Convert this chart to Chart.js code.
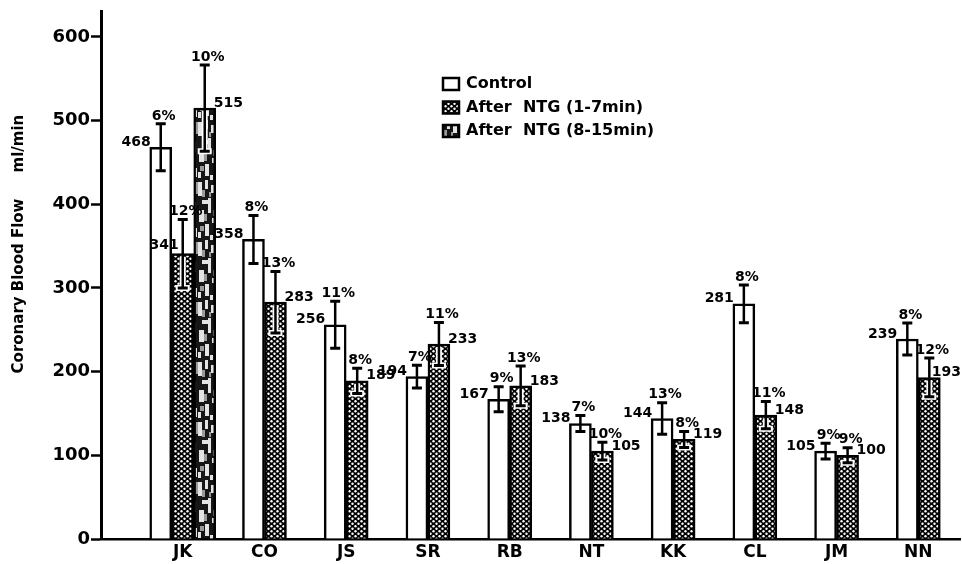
<!DOCTYPE html>
<html>
<head>
<meta charset="utf-8">
<script src="https://cdn.jsdelivr.net/npm/chart.js@4.4.1/dist/chart.umd.min.js"></script>
<style>
  html, body { margin: 0; padding: 0; background: #fff; }
  #wrap { position: relative; width: 962px; height: 564px; }
</style>
</head>
<body>
<div id="wrap"><canvas id="chart"></canvas></div>
<script>
// Coronary blood flow (ml/min) per subject, with variability in percent
const subjects = ['JK', 'CO', 'JS', 'SR', 'RB', 'NT', 'KK', 'CL', 'JM', 'NN'];
const controlFlow = [468, 358, 256, 194, 167, 138, 144, 281, 105, 239];
const controlVar  = [6, 8, 11, 7, 9, 7, 13, 8, 9, 8];
const earlyFlow   = [341, 283, 189, 233, 183, 105, 119, 148, 100, 193];
const earlyVar    = [12, 13, 8, 11, 13, 10, 8, 11, 9, 12];
const lateFlow    = [515, null, null, null, null, null, null, null, null, null];
const lateVar     = [10, null, null, null, null, null, null, null, null, null];
const yTicks      = [0, 100, 200, 300, 400, 500, 600];

const FONT = '"DejaVu Sans", "Liberation Sans", sans-serif';
Chart.defaults.font.family = FONT;
Chart.defaults.font.weight = 'bold';
Chart.defaults.color = '#000';

// Stipple fill: white dots on black
function dotPattern() {
  const c = document.createElement('canvas');
  c.width = 6; c.height = 5;
  const g = c.getContext('2d');
  g.fillStyle = '#000';
  g.fillRect(0, 0, 6, 5);
  g.fillStyle = '#fff';
  [[1.5, 1.25], [4.5, 3.75]].forEach(([x, y]) => {
    g.beginPath(); g.arc(x, y, 1.2, 0, Math.PI * 2); g.fill();
  });
  return g.createPattern(c, 'repeat');
}

// Dark fill with light vertical smears
function streakPattern() {
  const c = document.createElement('canvas');
  c.width = 22; c.height = 60;
  const g = c.getContext('2d');
  g.fillStyle = '#161616';
  g.fillRect(0, 0, 22, 60);
  g.fillStyle = '#e4e4e4';
  [[0, 2, 4, 14], [7, 0, 3, 9], [13, 5, 4, 8], [4, 20, 6, 4], [10, 18, 3, 15],
   [17, 22, 3, 10], [1, 30, 5, 12], [14, 38, 5, 5], [7, 44, 4, 12], [18, 48, 3, 9],
   [0, 52, 3, 6], [12, 55, 3, 5]].forEach(r => g.fillRect(...r));
  g.fillStyle = '#9a9a9a';
  [[4, 10, 3, 7], [11, 12, 2, 5], [6, 34, 3, 7], [15, 30, 2, 6], [2, 46, 4, 5], [19, 2, 3, 12]].forEach(r => g.fillRect(...r));
  return g.createPattern(c, 'repeat');
}

const canvas = document.getElementById('chart');
const ctx2d = canvas.getContext('2d');
const fills = ['#ffffff', dotPattern(), streakPattern()];

// Error bars plus value and percent annotations
const annotate = {
  id: 'annotate',
  afterDatasetsDraw(chart) {
    const { ctx, scales: { y } } = chart;
    ctx.save();
    chart.data.datasets.forEach((ds, d) => {
      const meta = chart.getDatasetMeta(d);
      ds.data.forEach((v, i) => {
        if (v == null) return;
        const bar = meta.data[i];
        const p = ds.spread[i];
        const hi = y.getPixelForValue(v * (1 + p / 100));
        const lo = y.getPixelForValue(v * (1 - p / 100));
        const x = bar.x;
        // white window inside the bar
        ctx.strokeStyle = '#fff';
        ctx.lineWidth = 6;
        ctx.beginPath();
        ctx.moveTo(x, bar.y + 3); ctx.lineTo(x, lo + 3);
        ctx.moveTo(x - 7, lo); ctx.lineTo(x + 7, lo);
        ctx.stroke();
        // whisker
        ctx.strokeStyle = '#000';
        ctx.lineWidth = 2.5;
        ctx.beginPath();
        ctx.moveTo(x, hi); ctx.lineTo(x, lo);
        ctx.stroke();
        ctx.lineWidth = 3;
        ctx.beginPath();
        ctx.moveTo(x - 5, hi); ctx.lineTo(x + 5, hi);
        ctx.moveTo(x - 5, lo); ctx.lineTo(x + 5, lo);
        ctx.stroke();
      });
    });
    ctx.fillStyle = '#000';
    ctx.font = 'bold 14px ' + FONT;
    ctx.textBaseline = 'middle';
    const maxX = chart.width - 1;
    chart.data.datasets.forEach((ds, d) => {
      const meta = chart.getDatasetMeta(d);
      ds.data.forEach((v, i) => {
        if (v == null) return;
        const bar = meta.data[i];
        const p = ds.spread[i];
        const hi = y.getPixelForValue(v * (1 + p / 100));
        const left = bar.x - bar.width / 2;
        const right = bar.x + bar.width / 2;
        // percent above whisker
        ctx.textAlign = 'center';
        ctx.fillText(p + '%', bar.x + 3, hi - 8);
        // value beside the bar top
        const txt = String(v);
        const crowded = d === 1 && chart.data.datasets[2].data[i] != null;
        if (d === 0) {
          ctx.textAlign = 'right';
          ctx.fillText(txt, left + 1, bar.y - 5);
        } else if (crowded) {
          ctx.textAlign = 'right';
          ctx.fillText(txt, bar.x - 4, bar.y - 8);
        } else {
          ctx.textAlign = 'left';
          const w = ctx.measureText(txt).width;
          ctx.fillText(txt, Math.min(right - 2, maxX - w), bar.y - 5);
        }
      });
    });
    ctx.restore();
  }
};

// Legend box in the upper middle of the plot
const keyBox = {
  id: 'keyBox',
  afterDraw(chart) {
    const { ctx } = chart;
    ctx.save();
    ctx.font = 'bold 16px ' + FONT;
    ctx.textBaseline = 'middle';
    ctx.textAlign = 'left';
    chart.data.datasets.forEach((ds, d) => {
      const cy = 84 + d * 23.5;
      ctx.fillStyle = ds.backgroundColor;
      ctx.fillRect(443, cy - 6, 16, 12);
      ctx.strokeStyle = '#000';
      ctx.lineWidth = 2.5;
      ctx.strokeRect(443, cy - 6, 16, 12);
      ctx.fillStyle = '#000';
      ctx.fillText(ds.label, 466, cy);
    });
    ctx.restore();
  }
};

new Chart(ctx2d, {
  type: 'bar',
  data: {
    labels: subjects.map((_, i) => i),
    datasets: [
      { label: 'Control', data: controlFlow, spread: controlVar, backgroundColor: fills[0] },
      { label: 'After  NTG (1-7min)', data: earlyFlow, spread: earlyVar, backgroundColor: fills[1] },
      { label: 'After  NTG (8-15min)', data: lateFlow, spread: lateVar, backgroundColor: fills[2] }
    ]
  },
  options: {
    responsive: true,
    maintainAspectRatio: false,
    animation: false,
    layout: { padding: { left: 0, right: 2, top: 8, bottom: 0 } },
    datasets: {
      bar: {
        barThickness: 22,
        skipNull: true,
        borderColor: '#000',
        borderWidth: 2.5,
        borderSkipped: 'bottom'
      }
    },
    plugins: { legend: { display: false }, tooltip: { enabled: false } },
    scales: {
      x: {
        type: 'linear',
        min: -1.0,
        max: 9.51,
        offset: false,
        grid: { display: false, drawTicks: false },
        border: { display: true, color: '#000', width: 2.5 },
        afterBuildTicks: s => { s.ticks = subjects.map((_, i) => ({ value: i })); },
        afterFit: s => { s.height = 25; },
        ticks: {
          autoSkip: false, maxRotation: 0, padding: 3,
          font: { size: 17, weight: 'bold' },
          callback: v => subjects[v] ?? ''
        }
      },
      y: {
        min: 0,
        max: 630,
        afterBuildTicks: s => { s.ticks = yTicks.map(v => ({ value: v })); },
        afterFit: s => { s.width = 101; },
        grid: {
          display: true, drawOnChartArea: false, drawTicks: true,
          tickLength: 10, tickWidth: 2.5, tickColor: '#000', color: '#000'
        },
        border: { display: true, color: '#000', width: 3 },
        ticks: { padding: 1, font: { size: 18, weight: 'bold' } },
        title: {
          display: true,
          text: '\u00a0'.repeat(12) + 'Coronary Blood Flow\u00a0\u00a0\u00a0\u00a0\u00a0ml/min',
          font: { size: 15, weight: 'bold' },
          padding: { top: 10, bottom: 0 }
        }
      }
    }
  },
  plugins: [annotate, keyBox]
});
</script>
</body>
</html>
